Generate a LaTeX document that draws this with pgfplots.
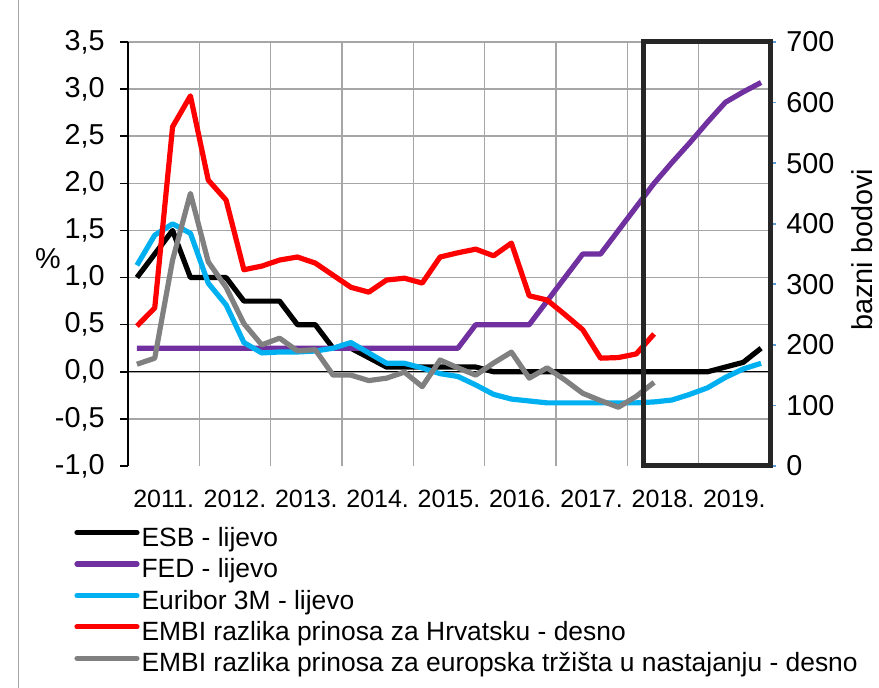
\documentclass[border=0pt]{standalone}
\usepackage{fontspec}
\setmainfont{Liberation Sans}
\usepackage{pgfplots}
\pgfplotsset{compat=1.18}
\usepackage{pgfplotstable}

\definecolor{fedc}{HTML}{7030A0}
\definecolor{euric}{HTML}{00B0F0}
\definecolor{grayc}{HTML}{808080}
\definecolor{gridc}{HTML}{A6A6A6}
\definecolor{boxc}{HTML}{262626}
\definecolor{tickb}{HTML}{5B9BD5}

\pgfplotstableread{
k esb fed eur
0 1.00 0.25 1.13
1 1.25 0.25 1.45
2 1.50 0.25 1.57
3 1.00 0.25 1.47
4 1.00 0.25 0.94
5 1.00 0.25 0.71
6 0.75 0.25 0.31
7 0.75 0.25 0.20
8 0.75 0.25 0.21
9 0.50 0.25 0.21
10 0.50 0.25 0.22
11 0.25 0.25 0.25
12 0.25 0.25 0.31
13 0.15 0.25 0.20
14 0.05 0.25 0.09
15 0.05 0.25 0.09
16 0.05 0.25 0.04
17 0.05 0.25 -0.02
18 0.05 0.25 -0.05
19 0.05 0.50 -0.14
20 0.00 0.50 -0.24
21 0.00 0.50 -0.29
22 0.00 0.50 -0.31
23 0.00 0.75 -0.33
24 0.00 1.00 -0.33
25 0.00 1.25 -0.33
26 0.00 1.25 -0.33
27 0.00 1.50 -0.33
28 0.00 1.75 -0.33
29 0.00 2.00 -0.32
30 0.00 2.22 -0.30
31 0.00 2.43 -0.24
32 0.00 2.65 -0.17
33 0.05 2.86 -0.06
34 0.10 2.97 0.03
35 0.25 3.07 0.09
}\lefttab

\pgfplotstableread{
k hr eu
0 231 168
1 261 178
2 560 340
3 611 450
4 472 337
5 439 295
6 324 235
7 330 200
8 340 211
9 345 190
10 335 192
11 315 150
12 295 150
13 287 141
14 307 145
15 310 155
16 302 131
17 345 175
18 352 162
19 358 150
20 347 170
21 368 188
22 281 145
23 274 162
24 250 142
25 225 120
26 178 108
27 179 97
28 185 115
29 218 138
}\righttab

\begin{document}
\begin{tikzpicture}
\begin{axis}[
  at={(0,0)}, anchor=south west,
  scale only axis, width=321pt, height=212pt,
  xmin=-0.5, xmax=35.5, ymin=-1, ymax=3.5,
  axis x line*=bottom, axis y line*=left,
  x axis line style={draw=none},
  y axis line style={black, line width=0.8pt},
  xtick={1.5,5.5,9.5,13.5,17.5,21.5,25.5,29.5,33.5},
  xticklabels={2011.,2012.,2013.,2014.,2015.,2016.,2017.,2018.,2019.},
  xtick style={draw=none},
  minor xtick={-0.5,3.5,7.5,11.5,15.5,19.5,23.5,27.5,31.5,35.5},
  minor x tick style={draw=none},
  xminorgrids=true, ymajorgrids=true,
  major grid style={gridc, line width=0.8pt},
  minor grid style={gridc, line width=0.8pt},
  ytick={-0.5,0,0.5,1,1.5,2,2.5,3,3.5},
  extra y ticks={-1},
  extra y tick style={ymajorgrids=false},
  ytick style={black, line width=0.8pt},
  tick align=outside, major tick length=4pt,
  /pgf/number format/assume math mode=true,
  /pgf/number format/fixed,
  /pgf/number format/fixed zerofill,
  /pgf/number format/precision=1,
  /pgf/number format/use comma,
  yticklabel style={font=\fontsize{14.4}{16}\selectfont, inner sep=0pt, xshift=-7.5pt},
  xticklabel style={font=\fontsize{12.5}{15}\selectfont, inner sep=0pt, yshift=-8pt},
  clip=false,
]
\draw[black, line width=0.6pt] (axis cs:-0.5,0) -- (axis cs:35.5,0);
\addplot[black, line width=2.6pt, line join=round] table[x=k, y=esb] {\lefttab};
\addplot[fedc, line width=2.6pt, line join=round] table[x=k, y=fed] {\lefttab};
\addplot[euric, line width=2.6pt, line join=round] table[x=k, y=eur] {\lefttab};
\node[font=\fontsize{14.4}{16}\selectfont, anchor=center] at (rel axis cs:0,0.49) [xshift=-40pt] {\%};
\end{axis}

\begin{axis}[
  at={(0,0)}, anchor=south west,
  scale only axis, width=321pt, height=212pt,
  xmin=-0.5, xmax=35.5, ymin=0, ymax=700,
  axis x line=none, axis y line*=right,
  y axis line style={draw=none},
  ytick={0,100,200,300,400,500,600,700},
  ytick style={tickb, line width=0.8pt},
  tick align=outside, major tick length=3pt,
  /pgf/number format/assume math mode=true,
  yticklabel style={font=\fontsize{14.4}{16}\selectfont, inner sep=0pt, xshift=5pt},
  clip=false,
  legend cell align=left,
  legend style={at={(rel axis cs:0,0)}, anchor=north west, xshift=-27pt, yshift=-30pt,
    draw=none, fill=none, inner sep=0pt, row sep=2.2pt, column sep=1pt,
    font=\fontsize{13.2}{15.5}\selectfont,
    nodes={inner sep=0pt, text height=10pt, text depth=3.5pt}},
  legend image code/.code={\draw[#1, line cap=round] (0pt,0.36em) -- (30pt,0.36em);},
]
\addlegendimage{black, line width=2.6pt}
\addlegendentry{ESB - lijevo}
\addlegendimage{fedc, line width=2.6pt}
\addlegendentry{FED - lijevo}
\addlegendimage{euric, line width=2.6pt}
\addlegendentry{Euribor 3M - lijevo}
\addplot[red, line width=2.6pt, line join=round] table[x=k, y=hr] {\righttab};
\addlegendentry{EMBI razlika prinosa za Hrvatsku - desno}
\addplot[grayc, line width=2.6pt, line join=round] table[x=k, y=eu] {\righttab};
\addlegendentry{EMBI razlika prinosa za europska tržišta u nastajanju - desno}
\draw[boxc, line width=2.5pt] (axis cs:28.4,0) rectangle (axis cs:35.5,700);
\node[font=\fontsize{14.4}{16}\selectfont, inner sep=0pt, xshift=46pt, rotate=90] at (rel axis cs:1,0.51) {bazni bodovi};
\end{axis}
\draw[gridc, line width=0.5pt] (-54.5pt,-111pt) -- (-54.5pt,233pt);
\pgfresetboundingbox
\path (-64pt,-111pt) rectangle (375.5pt,233pt);
\end{tikzpicture}
\end{document}
